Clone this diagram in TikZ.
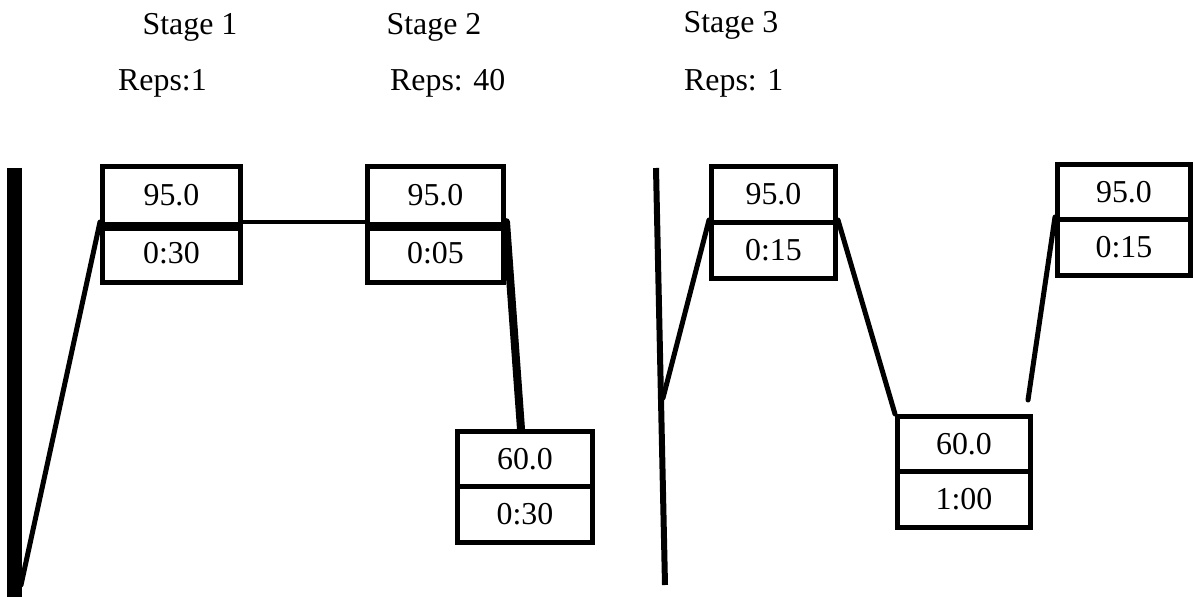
\documentclass[tikz,border=0pt]{standalone}
\usepackage{fontspec}
\setmainfont{Liberation Serif}
\begin{document}
\begin{tikzpicture}[x=1bp,y=-1bp,
  every node/.style={font=\fontsize{32}{38}\selectfont, inner sep=0pt},
  cell/.style={draw=black, line width=5bp, anchor=north west},
  label/.style={anchor=base},
  link/.style={draw=black, line width=5bp, line cap=round},
  divider/.style={draw=black, line width=9bp}]
\useasboundingbox (0,0) rectangle (1195,597);
\fill[white] (0,0) rectangle (1195,597);

% stage headings and repeat counts
\node[label] (s1) at (190,35) {Stage 1};
\node[label] (s2) at (434,35) {Stage 2};
\node[label] (s3) at (731,33) {Stage 3};
\node[label, anchor=base west] (r1) at (118,91) {Reps:1};
\node[label, anchor=base west] (r2) at (390,91) {Reps: 40};
\node[label, anchor=base west] (r3) at (684,91) {Reps: 1};

% temperature / time boxes (upper cell: temperature, lower cell: time)
\node[cell, minimum width=138bp, minimum height=58bp] (b1t) at (100,164) {95.0};
\node[cell, minimum width=138bp, minimum height=58bp] (b1b) at (100,222) {0:30};
\node[cell, minimum width=136bp, minimum height=58bp] (b2t) at (365,164) {95.0};
\node[cell, minimum width=136bp, minimum height=58bp] (b2b) at (365,222) {0:05};
\node[cell, minimum width=135bp, minimum height=55bp] (b3t) at (455,429) {60.0};
\node[cell, minimum width=135bp, minimum height=56bp] (b3b) at (455,484) {0:30};
\node[cell, minimum width=124bp, minimum height=56bp] (b4t) at (709,164) {95.0};
\node[cell, minimum width=124bp, minimum height=56bp] (b4b) at (709,220) {0:15};
\node[cell, minimum width=133bp, minimum height=55bp] (b5t) at (895,414) {60.0};
\node[cell, minimum width=133bp, minimum height=56bp] (b5b) at (895,469) {1:00};
\node[cell, minimum width=133bp, minimum height=55bp] (b6t) at (1055,162) {95.0};
\node[cell, minimum width=133bp, minimum height=56bp] (b6b) at (1055,217) {0:15};

% heavier dividers in the first two boxes
\draw[divider] (b1t.south west) -- (b1t.south east);
\draw[divider] (b2t.south west) -- (b2t.south east);

% free ends of the ramps and the stage bars
\coordinate (barTop) at (14.5,168);
\coordinate (barBot) at (14.5,597);
\coordinate (rampStart) at (21,585);
\coordinate (s3Top) at (656,168);
\coordinate (s3Bot) at (665,585);
\coordinate (s3Join) at (663,398);
\coordinate (rampEnd) at (1028,400);

% stage separators
\draw[line width=15bp] (barTop) -- (barBot);
\draw[line width=6bp] (s3Top) -- (s3Bot);

% ramps between holds
\draw[link] (rampStart) -- (b1b.north west);
\draw[line width=4bp] (b1b.north east) -- (b2b.north west);
\draw[link, line width=8bp] (b2b.north east) -- ([xshift=-4bp]b3t.north);
\draw[link] (s3Join) -- (b4b.north west);
\draw[link] (b4b.north east) -- (b5t.north west);
\draw[link] (rampEnd) -- (b6b.north west);
\end{tikzpicture}
\end{document}
